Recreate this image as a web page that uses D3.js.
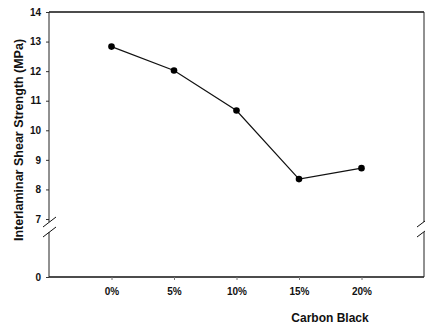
<!DOCTYPE html>
<html>
<head>
<meta charset="utf-8">
<script src="https://cdn.jsdelivr.net/npm/d3@7"></script>
<style>
  body { margin: 0; background: #fff; }
  svg { display: block; font-family: "Liberation Sans", Arial, sans-serif; }
</style>
</head>
<body>
<svg id="chart"></svg>
<script>
// data
var categories = ["0%", "5%", "10%", "15%", "20%"]
var strength = [12.83, 12.02, 10.67, 8.35, 8.72]
var yTicks = [0, 7, 8, 9, 10, 11, 12, 13, 14]

var dimensions = {
  width: 425,
  height: 326,
  margin: { top: 12, bottom: 49, right: 1, left: 49 }
}

var svg = d3.select("#chart")
  .attr("width", dimensions.width)
  .attr("height", dimensions.height)

var plotLeft = dimensions.margin.left
var plotRight = dimensions.width - dimensions.margin.right
var plotTop = dimensions.margin.top
var plotBottom = dimensions.height - dimensions.margin.bottom

// x: point scale, 5 categories with one empty slot each side
var xScale = d3.scalePoint()
  .domain(categories)
  .range([plotLeft, plotRight])
  .padding(1)

// y: broken axis, 0 sits below the break, 7..14 above it
var yScale = d3.scaleLinear()
  .domain([0, 7, 14])
  .range([plotBottom, 219, plotTop])

// frame: top line
svg.append("line")
  .attr("x1", plotLeft).attr("x2", plotRight)
  .attr("y1", plotTop).attr("y2", plotTop)
  .attr("stroke", "#111").attr("stroke-width", 1.5)

// bottom axis
var xAxis = svg.append("g")
  .attr("transform", `translate(0,${plotBottom})`)
  .call(d3.axisBottom(xScale).tickSize(3).tickSizeOuter(0))
xAxis.select(".domain").attr("d", `M${plotLeft},0H${plotRight}`).attr("stroke", "#111").attr("stroke-width", 1.5)
xAxis.selectAll(".tick line").attr("stroke", "#777")
xAxis.selectAll(".tick text")
  .attr("y", 11)
  .style("font-size", "10px")
  .style("font-weight", "bold")
  .attr("fill", "#111")

// left axis
var yAxis = svg.append("g")
  .attr("transform", `translate(${plotLeft},0)`)
  .call(d3.axisLeft(yScale).tickValues(yTicks).tickSize(3).tickSizeOuter(0))
yAxis.select(".domain").remove()
yAxis.selectAll(".tick line").attr("stroke", "#333")
yAxis.selectAll(".tick text")
  .attr("x", -8)
  .style("font-size", "10px")
  .style("font-weight", "bold")
  .attr("fill", "#111")

// vertical axis lines with the break gap
var gapTop = 222, gapBottom = 232
;[plotLeft, plotRight].forEach(function(x) {
  svg.append("line")
    .attr("x1", x).attr("x2", x)
    .attr("y1", plotTop).attr("y2", gapTop)
    .attr("stroke", "#222").attr("stroke-width", 1)
  svg.append("line")
    .attr("x1", x).attr("x2", x)
    .attr("y1", gapBottom).attr("y2", plotBottom)
    .attr("stroke", "#222").attr("stroke-width", 1)
})

// break slashes
;[gapTop, gapBottom].forEach(function(y) {
  svg.append("line")
    .attr("x1", plotLeft - 6).attr("y1", y + 5)
    .attr("x2", plotLeft + 7).attr("y2", y - 5)
    .attr("stroke", "#111").attr("stroke-width", 1)
  svg.append("line")
    .attr("x1", plotRight - 7).attr("y1", y + 5)
    .attr("x2", plotRight + 1).attr("y2", y - 1)
    .attr("stroke", "#111").attr("stroke-width", 1)
})

// data line
var line = d3.line()
  .x((d, i) => xScale(categories[i]))
  .y(d => yScale(d))

svg.append("path")
  .datum(strength)
  .attr("fill", "none")
  .attr("stroke", "#111")
  .attr("stroke-width", 1.2)
  .attr("d", line)

svg.append("g")
  .selectAll("circle")
  .data(strength)
  .enter()
  .append("circle")
  .attr("cx", (d, i) => xScale(categories[i]))
  .attr("cy", d => yScale(d))
  .attr("r", 3.3)
  .attr("fill", "#000")

// axis titles
svg.append("text")
  .attr("transform", "translate(23,140) rotate(-90)")
  .attr("text-anchor", "middle")
  .style("font-size", "12.5px")
  .style("font-weight", "bold")
  .attr("fill", "#111")
  .text("Interlaminar Shear Strength (MPa)")

svg.append("text")
  .attr("x", 330)
  .attr("y", 322)
  .attr("text-anchor", "middle")
  .style("font-size", "12px")
  .style("font-weight", "bold")
  .attr("fill", "#111")
  .text("Carbon Black")
</script>
</body>
</html>
